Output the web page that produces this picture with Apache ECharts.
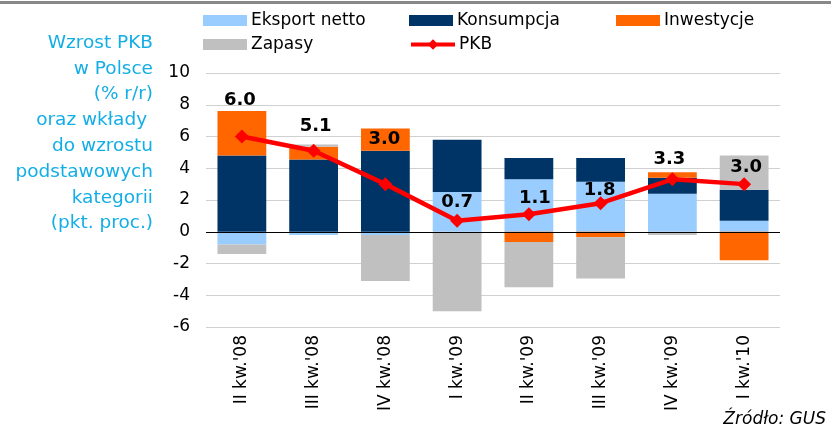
<!DOCTYPE html>
<html>
<head>
<meta charset="utf-8">
<script src="https://cdn.jsdelivr.net/npm/echarts@6/dist/echarts.min.js"></script>
<style>
  html, body { margin: 0; padding: 0; background: #fff; }
  #chart { width: 831px; height: 433px; }
</style>
</head>
<body>
<div id="chart"></div>
<script>
const categories = ["II kw.'08", "III kw.'08", "IV kw.'08", "I kw.'09", "II kw.'09", "III kw.'09", "IV kw.'09", "I kw.'10"]
const eksportNetto = [-0.8, -0.2, -0.2, 2.5, 3.3, 3.15, 2.4, 0.7]
const konsumpcja = [4.8, 4.55, 5.1, 3.3, 1.35, 1.5, 1.0, 1.95]
const inwestycje = [2.8, 0.8, 1.4, 0, -0.65, -0.35, 0.35, -1.8]
const zapasy = [-0.6, 0.15, -2.9, -5.0, -2.85, -2.6, -0.2, 2.15]
const pkb = [6.0, 5.1, 3.0, 0.7, 1.1, 1.8, 3.3, 3.0]
const titleLines = ['Wzrost PKB', 'w Polsce', '(% r/r)', 'oraz wkłady ', 'do wzrostu', 'podstawowych', 'kategorii', '(pkt. proc.)']

// label offsets for the PKB values (dx, dy from the marker)
const labelOffsets = [[-2, -36], [2, -24], [-1, -45], [0, -18], [6, -16], [-1, -13], [-3, -20], [2, -17]]

const FONT = 'DejaVu Sans'
const chart = echarts.init(document.getElementById('chart'))

const barSeries = (name, data, color) => ({
  name, type: 'bar', stack: 'a', data,
  barWidth: '68%',
  itemStyle: { color },
  emphasis: { disabled: true }
})

const legendItem = (name, left, top, extra) => Object.assign({
  data: [name], left, top, padding: 0,
  icon: 'rect',
  itemWidth: 44, itemHeight: 11, itemGap: 0,
  textStyle: { fontFamily: FONT, fontSize: 17, color: '#000', padding: [0, 0, 0, -1] },
  selectedMode: false
}, extra || {})

chart.setOption({
  animation: false,
  textStyle: { fontFamily: FONT },
  legend: [
    legendItem('Eksport netto', 203, 12),
    legendItem('Konsumpcja', 409, 12),
    legendItem('Inwestycje', 616, 12),
    legendItem('Zapasy', 203, 36),
    legendItem('PKB', 409, 36, {
      icon: null, itemHeight: 13,
      lineStyle: { width: 4 }
    })
  ],
  grid: { left: 206, right: 51, top: 73, bottom: 106 },
  xAxis: {
    type: 'category', data: categories,
    axisLine: { show: false }, axisTick: { show: false },
    axisLabel: { rotate: 90, fontSize: 17, color: '#000', margin: 8, fontFamily: FONT }
  },
  yAxis: {
    type: 'value', min: -6, max: 10, interval: 2,
    axisLine: { show: false }, axisTick: { show: false },
    axisLabel: { fontSize: 17, color: '#000', margin: 16, fontFamily: FONT },
    splitLine: { lineStyle: { color: '#d0d0d0', width: 1 } }
  },
  series: [
    Object.assign(barSeries('Eksport netto', eksportNetto, '#99ccff'), {
      markLine: {
        silent: true, symbol: 'none', label: { show: false },
        lineStyle: { color: '#000', width: 1, type: 'solid' },
        data: [{ yAxis: 0 }]
      }
    }),
    barSeries('Konsumpcja', konsumpcja, '#003366'),
    barSeries('Inwestycje', inwestycje, '#ff6600'),
    barSeries('Zapasy', zapasy, '#c0c0c0'),
    {
      name: 'PKB', type: 'line', z: 5,
      data: pkb.map((v, i) => ({
        value: v,
        label: { offset: labelOffsets[i] }
      })),
      symbol: 'diamond', symbolSize: 14,
      lineStyle: { color: '#ff0000', width: 4.5 },
      itemStyle: { color: '#ff0000' },
      label: {
        show: true, position: 'inside',
        formatter: p => p.value.toFixed(1),
        fontFamily: FONT, fontSize: 18, fontWeight: 'bold', color: '#000'
      },
      emphasis: { disabled: true }
    }
  ],
  graphic: [
    { type: 'rect', left: 0, top: 1, shape: { width: 831, height: 3 }, style: { fill: '#888' } },
    {
      type: 'text', x: 153, y: 30,
      style: {
        text: titleLines.join('\n'), align: 'right', verticalAlign: 'top',
        fontFamily: FONT, fontSize: 18.5, lineHeight: 25.8, fill: '#14aee6'
      }
    },
    {
      type: 'text', x: 826, y: 420,
      style: {
        text: 'Źródło: GUS', align: 'right', verticalAlign: 'middle',
        fontFamily: FONT, fontSize: 17, fontStyle: 'italic', fill: '#000'
      }
    }
  ]
})
</script>
</body>
</html>
